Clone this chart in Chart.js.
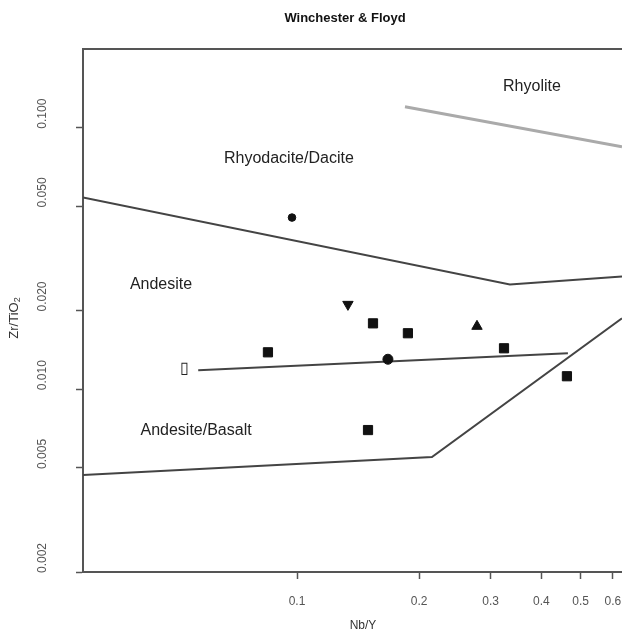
<!DOCTYPE html>
<html>
<head>
<meta charset="utf-8">
<script src="https://cdn.jsdelivr.net/npm/chart.js@4.4.1/dist/chart.umd.min.js"></script>
<style>
  html,body{margin:0;padding:0;background:#fff;overflow:hidden}
  #wrap{width:622px;height:633px}
</style>
</head>
<body>
<div id="wrap"><canvas id="c" width="622" height="633"></canvas></div>
<script>
// axes
const xTicks=[0.1,0.2,0.3,0.4,0.5,0.6];
const xTickLabels=['0.1','0.2','0.3','0.4','0.5','0.6'];
const yTicks=[0.002,0.005,0.01,0.02,0.05,0.1];
const yTickLabels=['0.002','0.005','0.010','0.020','0.050','0.100'];

// field boundaries (Nb/Y, Zr/TiO2)
const bndRhyodaciteX=[0.0297,0.3346,0.632];
const bndRhyodaciteY=[0.0541,0.02517,0.0270];
const bndRhyoliteX=[0.1845,0.632];
const bndRhyoliteY=[0.1203,0.0846];
const bndAndesiteX=[0.0571,0.465];
const bndAndesiteY=[0.01182,0.01372];
const bndBasaltX=[0.0297,0.2150,0.632];
const bndBasaltY=[0.00470,0.0055,0.01866];

// samples
const squaresX=[0.1539,0.1876,0.0848,0.1496,0.3236,0.4624];
const squaresY=[0.01786,0.01637,0.01384,0.00698,0.01434,0.01121];
const circlesX=[0.0972,0.1675];
const circlesY=[0.04533,0.01302];
const triUpX=[0.2776];
const triUpY=[0.01740];
const triDownX=[0.1335];
const triDownY=[0.02111];

// field names
const regionNames=['Rhyolite','Rhyodacite/Dacite','Andesite','Andesite/Basalt','\u25AF'];
const regionX=[0.3792,0.0955,0.04624,0.0564,0.0527];
const regionY=[0.1434,0.0761,0.02517,0.00692,0.01203];

const AXIS='#555';
const FONT='"Liberation Sans", Arial, sans-serif';
const pts=(xs,ys)=>xs.map((v,i)=>({x:v,y:ys[i]}));

function boundary(xs,ys,color,w){
  return {data:pts(xs,ys),showLine:true,pointRadius:0,borderColor:color,borderWidth:w,order:2,fill:false};
}
function marks(xs,ys,style,r,rot){
  return {data:pts(xs,ys),pointStyle:style,pointRadius:r,pointRotation:rot||0,
    backgroundColor:'#111',borderColor:'#111',borderWidth:1,order:0};
}

const overlay={
  id:'overlay',
  afterDraw(chart){
    const {ctx,chartArea:a,scales:{x,y}}=chart;
    ctx.save();
    ctx.strokeStyle=AXIS;ctx.lineWidth=2;
    ctx.beginPath();ctx.moveTo(a.left,a.top);ctx.lineTo(a.right,a.top);ctx.stroke();

    ctx.fillStyle='#555';ctx.font='12px '+FONT;ctx.textBaseline='middle';
    ctx.textAlign='center';
    xTicks.forEach((v,i)=>ctx.fillText(xTickLabels[i],x.getPixelForValue(v),a.bottom+30));
    yTicks.forEach((v,i)=>{
      ctx.save();ctx.translate(43,y.getPixelForValue(v)+1);ctx.rotate(-Math.PI/2);
      ctx.textAlign='left';ctx.fillText(yTickLabels[i],0,0);ctx.restore();
    });

    // axis titles
    ctx.fillStyle='#333';ctx.font='12px '+FONT;ctx.textAlign='center';
    ctx.fillText('Nb/Y',363,626);
    ctx.save();ctx.translate(14,318);ctx.rotate(-Math.PI/2);
    ctx.font='13px '+FONT;
    const main='Zr/TiO',w1=ctx.measureText(main).width;
    ctx.font='9px '+FONT;const w2=ctx.measureText('2').width;
    ctx.textAlign='left';ctx.font='13px '+FONT;
    ctx.fillText(main,-(w1+w2)/2,0);
    ctx.font='9px '+FONT;ctx.fillText('2',-(w1+w2)/2+w1,4);
    ctx.restore();

    ctx.fillStyle='#111';ctx.font='bold 13px '+FONT;ctx.textAlign='center';
    ctx.fillText('Winchester & Floyd',345,18);

    ctx.fillStyle='#222';ctx.font='16px '+FONT;
    regionNames.forEach((n,i)=>ctx.fillText(n,x.getPixelForValue(regionX[i]),y.getPixelForValue(regionY[i])));
    ctx.restore();
  }
};

new Chart(document.getElementById('c').getContext('2d'),{
  type:'scatter',
  data:{datasets:[
    boundary(bndRhyodaciteX,bndRhyodaciteY,'#444',2),
    boundary(bndRhyoliteX,bndRhyoliteY,'#aaa',3),
    boundary(bndAndesiteX,bndAndesiteY,'#444',2),
    boundary(bndBasaltX,bndBasaltY,'#444',2),
    marks(squaresX,squaresY,'rect',6.5),
    Object.assign(marks(circlesX,circlesY,'circle',5),{pointRadius:[3.8,5]}),
    marks(triUpX,triUpY,'triangle',6),
    marks(triDownX,triDownY,'triangle',6,180)
  ]},
  options:{
    responsive:false,animation:false,
    layout:{autoPadding:false,padding:{top:49,left:0,right:0,bottom:0}},
    plugins:{legend:{display:false},tooltip:{enabled:false},title:{display:false}},
    scales:{
      x:{type:'logarithmic',min:0.0297,max:0.632,
        afterBuildTicks:s=>{s.ticks=xTicks.map(v=>({value:v}));},
        afterFit:s=>{s.height=61;},
        ticks:{display:false},
        grid:{display:true,drawOnChartArea:false,drawTicks:true,tickLength:7,tickColor:AXIS,tickWidth:1.5},
        border:{display:true,color:AXIS,width:2}},
      y:{type:'logarithmic',min:0.002,max:0.2,
        afterBuildTicks:s=>{s.ticks=yTicks.map(v=>({value:v}));},
        afterFit:s=>{s.width=83;},
        ticks:{display:false},
        grid:{display:true,drawOnChartArea:false,drawTicks:true,tickLength:7,tickColor:AXIS,tickWidth:1.5},
        border:{display:true,color:AXIS,width:2}}
    }
  },
  plugins:[overlay]
});
</script>
</body>
</html>
